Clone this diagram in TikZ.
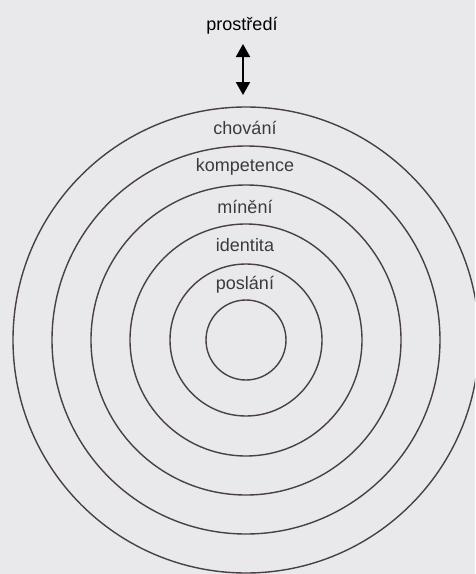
\documentclass[tikz,border=0pt]{standalone}
\usepackage{fontspec}
\setmainfont{Liberation Sans}
\usetikzlibrary{arrows.meta}
\definecolor{bg}{HTML}{E9E9EC}
\definecolor{ring}{HTML}{4A3F43}
\definecolor{txt}{HTML}{3C3A3C}
\begin{document}
\begin{tikzpicture}[x=1pt,y=-1pt,
  ringline/.style={draw=ring,line width=1.4pt},
  lbl/.style={text=txt,font=\fontsize{18}{20}\selectfont,inner sep=0pt,anchor=center}]
\fill[bg] (0,0) rectangle (475,574);
\useasboundingbox (0,0) rectangle (475,574);
\begin{scope}
\clip (0,0) rectangle (475,574);
\coordinate (c) at (246,340);
\foreach \r in {233,194,155,116,76,40}
  \draw[ringline] (c) circle[radius=\r];
\end{scope}
\node[lbl] (l1) at (245,128) {chování};
\node[lbl] (l2) at (245,167) {kompetence};
\node[lbl] (l3) at (245,207) {mínění};
\node[lbl] (l4) at (245,245) {identita};
\node[lbl] (l5) at (245,285) {poslání};
\node[lbl,text=black] (env) at (242,26) {prostředí};
\coordinate (abot) at (243,95);
\coordinate (atop) at (243,44);
\draw[line width=2pt,black,{Triangle[width=14pt,length=13pt]}-{Triangle[width=14pt,length=13pt]}] (atop) -- (abot);
\end{tikzpicture}
\end{document}
